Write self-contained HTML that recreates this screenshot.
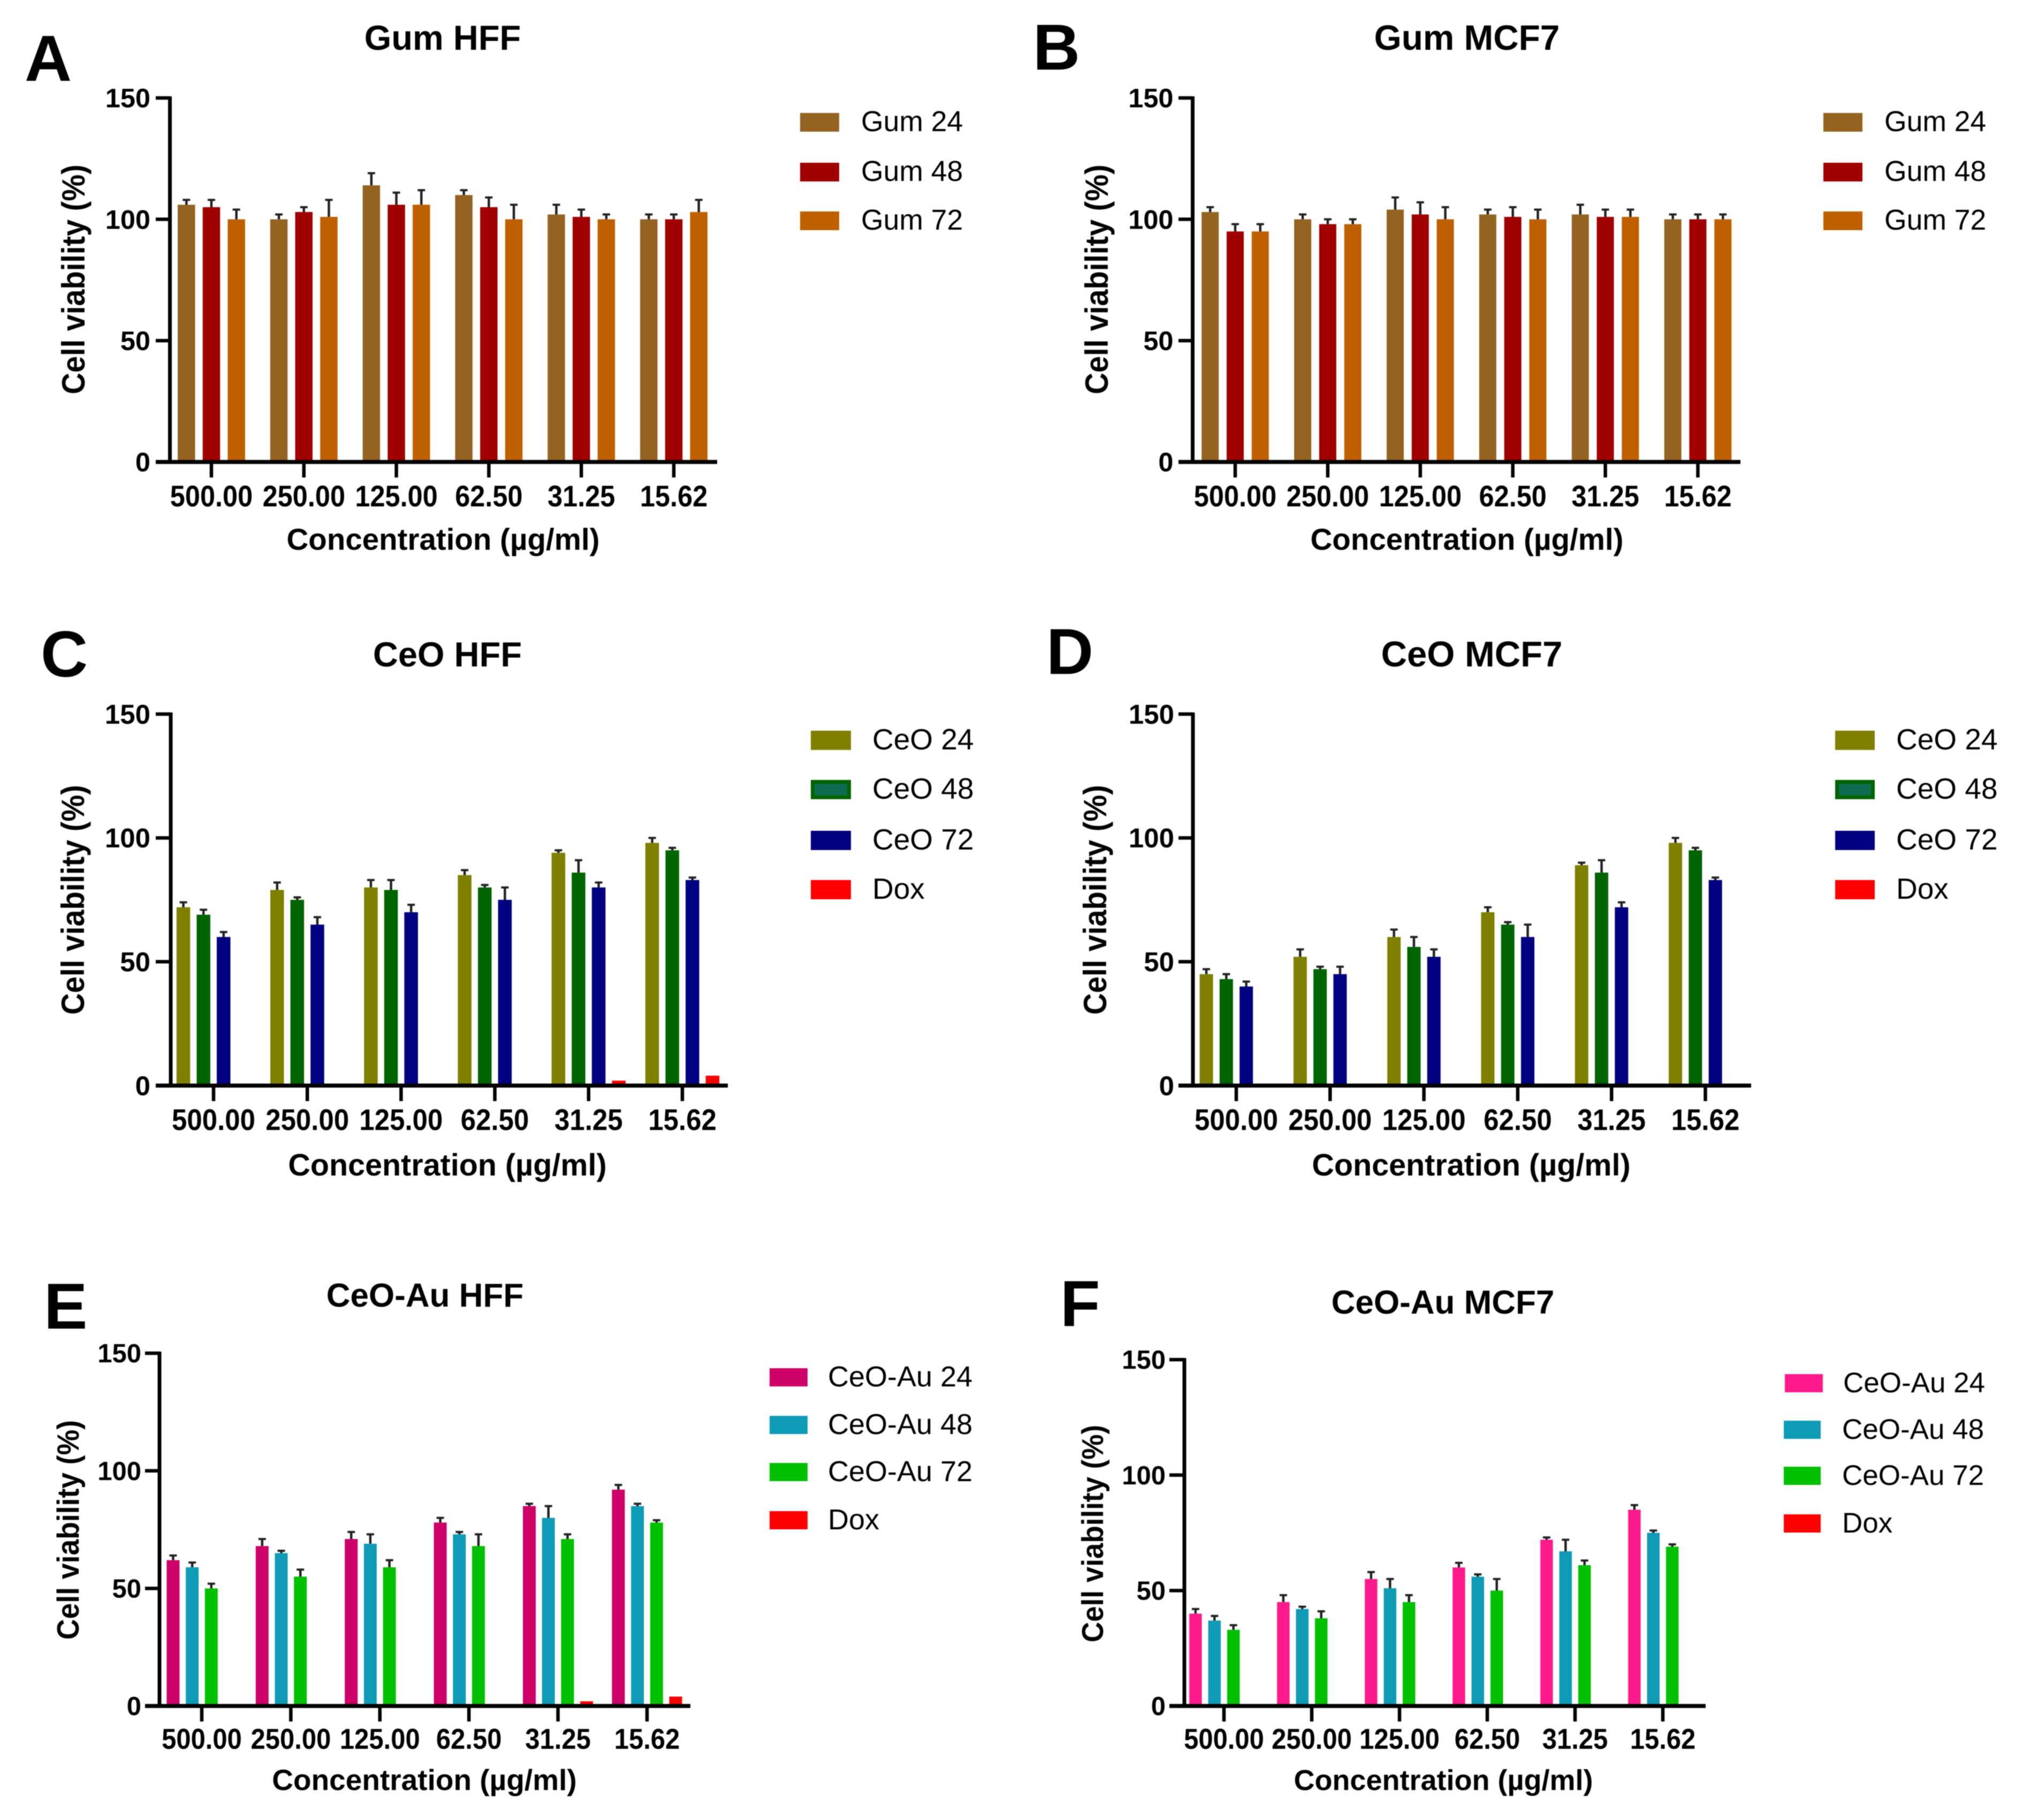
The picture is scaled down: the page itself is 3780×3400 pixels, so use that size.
<!DOCTYPE html>
<html lang="en">
<head>
<meta charset="utf-8">
<title>Cell viability panels</title>
<style>
html,body{margin:0;padding:0;background:#fff;width:3780px;height:3400px;overflow:hidden}
svg{display:block;font-family:"Liberation Sans",sans-serif;fill:#000;filter:blur(0.7px)}
.letter{font-size:122px;font-weight:700}
.title{font-weight:700;text-anchor:middle}
.xlab,.ylab{font-weight:700;text-anchor:middle}
.leg{font-weight:400;transform:translateY(-2px)}
.tk{font-weight:700}
</style>
</head>
<body>
<svg id="figure" xmlns="http://www.w3.org/2000/svg" width="3780" height="3400" viewBox="0 0 3780 3400">
<rect x="0" y="0" width="3780" height="3400" fill="#fff"/>

<g id="panel-a">
<text class="letter" x="46" y="151">A</text>
<text class="title" x="827" y="93" font-size="65">Gum HFF</text>
<text class="xlab" x="828" y="1027" font-size="56.5">Concentration (µg/ml)</text>
<text class="ylab" transform="translate(158,522) rotate(-90) scale(1,1.07)" font-size="56">Cell viability (%)</text>
<g>
<rect x="1495" y="211" width="73" height="35" fill="#946321"/>
<text class="leg" x="1609" y="247" font-size="53.5">Gum 24</text>
<rect x="1495" y="304" width="73" height="35" fill="#a00000"/>
<text class="leg" x="1609" y="340" font-size="53.5">Gum 48</text>
<rect x="1495" y="395" width="73" height="35" fill="#bf6000"/>
<text class="leg" x="1609" y="431" font-size="53.5">Gum 72</text>
</g>
</g>

<g id="panel-b">
<text class="letter" x="1930" y="130">B</text>
<text class="title" x="2741" y="93" font-size="65.7">Gum MCF7</text>
<text class="xlab" x="2741" y="1027" font-size="56.5">Concentration (µg/ml)</text>
<text class="ylab" transform="translate(2070,522) rotate(-90) scale(1,1.07)" font-size="56">Cell viability (%)</text>
<g>
<rect x="3407" y="211" width="73" height="35" fill="#946321"/>
<text class="leg" x="3521" y="247" font-size="53.5">Gum 24</text>
<rect x="3407" y="304" width="73" height="35" fill="#a00000"/>
<text class="leg" x="3521" y="340" font-size="53.5">Gum 48</text>
<rect x="3407" y="395" width="73" height="35" fill="#bf6000"/>
<text class="leg" x="3521" y="431" font-size="53.5">Gum 72</text>
</g>
</g>

<g id="panel-c">
<text class="letter" x="76" y="1264">C</text>
<text class="title" x="836" y="1245" font-size="65">CeO HFF</text>
<text class="xlab" x="836" y="2196" font-size="57.5">Concentration (µg/ml)</text>
<text class="ylab" transform="translate(157,1681) rotate(-90) scale(1,1.07)" font-size="56">Cell viability (%)</text>
<g>
<rect x="1515" y="1365" width="75" height="36" fill="#808000"/>
<text class="leg" x="1630" y="1402" font-size="55">CeO 24</text>
<rect x="1518.5" y="1460.5" width="68" height="29" fill="#0d6b50" stroke="#006400" stroke-width="7"/>
<text class="leg" x="1630" y="1494" font-size="55">CeO 48</text>
<rect x="1515" y="1552" width="75" height="36" fill="#000080"/>
<text class="leg" x="1630" y="1589" font-size="55">CeO 72</text>
<rect x="1515" y="1644" width="75" height="36" fill="#ff0000"/>
<text class="leg" x="1630" y="1681" font-size="55">Dox</text>
</g>
</g>

<g id="panel-d">
<text class="letter" x="1955" y="1259">D</text>
<text class="title" x="2750" y="1245" font-size="67">CeO MCF7</text>
<text class="xlab" x="2749" y="2196" font-size="57.5">Concentration (µg/ml)</text>
<text class="ylab" transform="translate(2067,1681) rotate(-90) scale(1,1.07)" font-size="56">Cell viability (%)</text>
<g>
<rect x="3429" y="1365" width="74" height="36" fill="#808000"/>
<text class="leg" x="3543" y="1402" font-size="55">CeO 24</text>
<rect x="3432.5" y="1460.5" width="67" height="29" fill="#0d6b50" stroke="#006400" stroke-width="7"/>
<text class="leg" x="3543" y="1494" font-size="55">CeO 48</text>
<rect x="3429" y="1552" width="74" height="36" fill="#000080"/>
<text class="leg" x="3543" y="1589" font-size="55">CeO 72</text>
<rect x="3429" y="1644" width="74" height="36" fill="#ff0000"/>
<text class="leg" x="3543" y="1681" font-size="55">Dox</text>
</g>
</g>

<g id="panel-e">
<text class="letter" x="82" y="2482">E</text>
<text class="title" x="794" y="2441" font-size="62">CeO-Au HFF</text>
<text class="xlab" x="793" y="3344" font-size="55">Concentration (µg/ml)</text>
<text class="ylab" transform="translate(147,2858) rotate(-90) scale(1,1.07)" font-size="53.5">Cell viability (%)</text>
<g>
<rect x="1438" y="2556" width="71" height="34" fill="#cc0066"/>
<text class="leg" x="1547" y="2592" font-size="54">CeO-Au 24</text>
<rect x="1438" y="2645" width="71" height="34" fill="#0f9bb5"/>
<text class="leg" x="1547" y="2681" font-size="54">CeO-Au 48</text>
<rect x="1438" y="2733" width="71" height="34" fill="#00c000"/>
<text class="leg" x="1547" y="2769" font-size="54">CeO-Au 72</text>
<rect x="1438" y="2823" width="71" height="34" fill="#ff0000"/>
<text class="leg" x="1547" y="2859" font-size="54">Dox</text>
</g>
</g>

<g id="panel-f">
<text class="letter" x="1981" y="2477">F</text>
<text class="title" x="2696" y="2454" font-size="62">CeO-Au MCF7</text>
<text class="xlab" x="2697" y="3344" font-size="54">Concentration (µg/ml)</text>
<text class="ylab" transform="translate(2061,2865) rotate(-90) scale(1,1.07)" font-size="53">Cell viability (%)</text>
<g>
<rect x="3335" y="2567" width="71" height="34" fill="#ff1a8c"/>
<text class="leg" x="3444" y="2603" font-size="53">CeO-Au 24</text>
<rect x="3333" y="2654" width="69" height="34" fill="#0f9bb5"/>
<text class="leg" x="3442" y="2690" font-size="53">CeO-Au 48</text>
<rect x="3333" y="2740" width="69" height="34" fill="#00c000"/>
<text class="leg" x="3442" y="2776" font-size="53">CeO-Au 72</text>
<rect x="3333" y="2829" width="69" height="34" fill="#ff0000"/>
<text class="leg" x="3442" y="2865" font-size="53">Dox</text>
</g>
</g>
</svg>

<script>
// ---- shared labels ----
const concentrationLabels = ["500.00", "250.00", "125.00", "62.50", "31.25", "15.62"];
const yTickValues = [0, 50, 100, 150];

// ---- panel A: Gum HFF ----
const gumHff24 = [106, 100, 114, 110, 102, 100];
const gumHff48 = [105, 103, 106, 105, 101, 100];
const gumHff72 = [100, 101, 106, 100, 100, 103];
const gumHff24Err = [2, 2, 5, 2, 4, 2];
const gumHff48Err = [3, 2, 5, 4, 3, 2];
const gumHff72Err = [4, 7, 6, 6, 2, 5];

// ---- panel B: Gum MCF7 ----
const gumMcf24 = [103, 100, 104, 102, 102, 100];
const gumMcf48 = [95, 98, 102, 101, 101, 100];
const gumMcf72 = [95, 98, 100, 100, 101, 100];
const gumMcf24Err = [2, 2, 5, 2, 4, 2];
const gumMcf48Err = [3, 2, 5, 4, 3, 2];
const gumMcf72Err = [3, 2, 5, 4, 3, 2];

// ---- panel C: CeO HFF ----
const ceoHff24 = [72, 79, 80, 85, 94, 98];
const ceoHff48 = [69, 75, 79, 80, 86, 95];
const ceoHff72 = [60, 65, 70, 75, 80, 83];
const ceoHffDox = [0, 0, 0, 0, 2, 4];
const ceoHff24Err = [2, 3, 3, 2, 1, 2];
const ceoHff48Err = [2, 1, 4, 1, 5, 1];
const ceoHff72Err = [2, 3, 3, 5, 2, 1];

// ---- panel D: CeO MCF7 ----
const ceoMcf24 = [45, 52, 60, 70, 89, 98];
const ceoMcf48 = [43, 47, 56, 65, 86, 95];
const ceoMcf72 = [40, 45, 52, 60, 72, 83];
const ceoMcfDox = [0, 0, 0, 0, 0, 0];
const ceoMcf24Err = [2, 3, 3, 2, 1, 2];
const ceoMcf48Err = [2, 1, 4, 1, 5, 1];
const ceoMcf72Err = [2, 3, 3, 5, 2, 1];

// ---- panel E: CeO-Au HFF ----
const auHff24 = [62, 68, 71, 78, 85, 92];
const auHff48 = [59, 65, 69, 73, 80, 85];
const auHff72 = [50, 55, 59, 68, 71, 78];
const auHffDox = [0, 0, 0, 0, 2, 4];
const auHff24Err = [2, 3, 3, 2, 1, 2];
const auHff48Err = [2, 1, 4, 1, 5, 1];
const auHff72Err = [2, 3, 3, 5, 2, 1];

// ---- panel F: CeO-Au MCF7 ----
const auMcf24 = [40, 45, 55, 60, 72, 85];
const auMcf48 = [37, 42, 51, 56, 67, 75];
const auMcf72 = [33, 38, 45, 50, 61, 69];
const auMcfDox = [0, 0, 0, 0, 0, 0];
const auMcf24Err = [2, 3, 3, 2, 1, 2];
const auMcf48Err = [2, 1, 4, 1, 5, 1];
const auMcf72Err = [2, 3, 3, 5, 2, 1];

const NS = "http://www.w3.org/2000/svg";

function shape(parent, tag, attrs) {
  const el = document.createElementNS(NS, tag);
  for (const k in attrs) el.setAttribute(k, attrs[k]);
  parent.appendChild(el);
  return el;
}

function drawPanel(cfg) {
  const root = document.getElementById(cfg.id);
  const xPos = function (cat, slot) {
    return cfg.tick0 + cat * cfg.tickStep + (slot - (cfg.slots - 1) / 2) * cfg.slotW;
  };
  const tickX = function (cat) { return cfg.tick0 + cat * cfg.tickStep; };
  const yPos = function (v) { return cfg.y0 + (cfg.y150 - cfg.y0) * v / 150; };

  const plot = shape(root, "g", {});
  
  

  cfg.series.forEach(function (s, sIdx) {
    const group = shape(plot, "g", {});
    
    
    s.values.forEach(function (v, cat) {
      if (v <= 0) return;
      const cx = xPos(cat, sIdx);
      const bar = shape(group, "rect", {
        x: cx - cfg.barW / 2, y: yPos(v), width: cfg.barW, height: cfg.y0 - yPos(v), fill: s.color
      });
      
      
      if (s.errors) {
        const top = yPos(v + s.errors[cat]);
        const stem = shape(group, "line", {
          x1: cx, x2: cx, y1: yPos(v), y2: top, stroke: "#222", "stroke-width": 4.5
        });
        
        
        const cap = shape(group, "line", {
          x1: cx - 7, x2: cx + 7, y1: top, y2: top, stroke: "#222", "stroke-width": 4
        });
        
        
      }
    });
  });

  const yAxis = shape(root, "line", {
    x1: cfg.axisX, x2: cfg.axisX, y1: cfg.y150 - 3, y2: cfg.y0, stroke: "#000", "stroke-width": 7
  });
  
  

  const xAxis = shape(root, "line", {
    x1: cfg.axisStart, x2: cfg.axisEnd, y1: cfg.y0, y2: cfg.y0, stroke: "#000", "stroke-width": 7.5
  });
  
  

  yTickValues.forEach(function (v) {
    const t = shape(root, "line", {
      x1: cfg.axisStart, x2: cfg.axisX, y1: yPos(v), y2: yPos(v), stroke: "#000", "stroke-width": 6.5
    });
    
    
    const lab = shape(root, "text", {
      x: cfg.yLabelRight, y: yPos(v) + cfg.tickFont * 0.35, "text-anchor": "end", "font-size": cfg.tickFont, "class": "tk"
    });
    lab.textContent = String(v);
    
    
  });

  concentrationLabels.forEach(function (label, cat) {
    const t = shape(root, "line", {
      x1: tickX(cat), x2: tickX(cat), y1: cfg.y0, y2: cfg.y0 + 29, stroke: "#000", "stroke-width": 6.5
    });
    
    
    const lab = shape(root, "text", {
      "text-anchor": "middle", "font-size": cfg.tickFont, "class": "tk",
      transform: "translate(" + tickX(cat) + "," + (cfg.y0 + cfg.xLabelDrop) + ") scale(1,1.1)"
    });
    lab.textContent = label;
    
    
  });
}

drawPanel({
  id: "panel-a", axisX: 317.5, axisStart: 291, axisEnd: 1340, y0: 863, y150: 183,
  tick0: 395, tickStep: 172.8, slots: 3, slotW: 46.7, barW: 32.5, tickFont: 50.5, yLabelRight: 281, xLabelDrop: 83,
  series: [
    { name: "gum-24", color: "#946321", values: gumHff24, errors: gumHff24Err },
    { name: "gum-48", color: "#a00000", values: gumHff48, errors: gumHff48Err },
    { name: "gum-72", color: "#bf6000", values: gumHff72, errors: gumHff72Err }
  ]
});
drawPanel({
  id: "panel-b", axisX: 2228.5, axisStart: 2202, axisEnd: 3252, y0: 863, y150: 183,
  tick0: 2308, tickStep: 172.9, slots: 3, slotW: 46.8, barW: 32, tickFont: 50.5, yLabelRight: 2192.5, xLabelDrop: 83,
  series: [
    { name: "gum-24", color: "#946321", values: gumMcf24, errors: gumMcf24Err },
    { name: "gum-48", color: "#a00000", values: gumMcf48, errors: gumMcf48Err },
    { name: "gum-72", color: "#bf6000", values: gumMcf72, errors: gumMcf72Err }
  ]
});
drawPanel({
  id: "panel-c", axisX: 319, axisStart: 291, axisEnd: 1360, y0: 2028, y150: 1334,
  tick0: 399, tickStep: 175.2, slots: 4, slotW: 37.6, barW: 25.5, tickFont: 51, yLabelRight: 281, xLabelDrop: 83,
  series: [
    { name: "ceo-24", color: "#808000", values: ceoHff24, errors: ceoHff24Err },
    { name: "ceo-48", color: "#006400", values: ceoHff48, errors: ceoHff48Err },
    { name: "ceo-72", color: "#000080", values: ceoHff72, errors: ceoHff72Err },
    { name: "dox", color: "#ff0000", values: ceoHffDox }
  ]
});
drawPanel({
  id: "panel-d", axisX: 2229, axisStart: 2202, axisEnd: 3272, y0: 2028, y150: 1334,
  tick0: 2310, tickStep: 175.3, slots: 4, slotW: 37.3, barW: 25, tickFont: 51, yLabelRight: 2194, xLabelDrop: 83,
  series: [
    { name: "ceo-24", color: "#808000", values: ceoMcf24, errors: ceoMcf24Err },
    { name: "ceo-48", color: "#006400", values: ceoMcf48, errors: ceoMcf48Err },
    { name: "ceo-72", color: "#000080", values: ceoMcf72, errors: ceoMcf72Err },
    { name: "dox", color: "#ff0000", values: ceoMcfDox }
  ]
});
drawPanel({
  id: "panel-e", axisX: 298, axisStart: 271, axisEnd: 1290, y0: 3187, y150: 2528,
  tick0: 377, tickStep: 166.4, slots: 4, slotW: 35.7, barW: 24, tickFont: 49, yLabelRight: 264, xLabelDrop: 80,
  series: [
    { name: "ceo-au-24", color: "#cc0066", values: auHff24, errors: auHff24Err },
    { name: "ceo-au-48", color: "#0f9bb5", values: auHff48, errors: auHff48Err },
    { name: "ceo-au-72", color: "#00c000", values: auHff72, errors: auHff72Err },
    { name: "dox", color: "#ff0000", values: auHffDox }
  ]
});
drawPanel({
  id: "panel-f", axisX: 2213, axisStart: 2185, axisEnd: 3187, y0: 3187, y150: 2540,
  tick0: 2287, tickStep: 164, slots: 4, slotW: 35.4, barW: 23.5, tickFont: 49, yLabelRight: 2178, xLabelDrop: 80,
  series: [
    { name: "ceo-au-24", color: "#ff1a8c", values: auMcf24, errors: auMcf24Err },
    { name: "ceo-au-48", color: "#0f9bb5", values: auMcf48, errors: auMcf48Err },
    { name: "ceo-au-72", color: "#00c000", values: auMcf72, errors: auMcf72Err },
    { name: "dox", color: "#ff0000", values: auMcfDox }
  ]
});
</script>
</body>
</html>
